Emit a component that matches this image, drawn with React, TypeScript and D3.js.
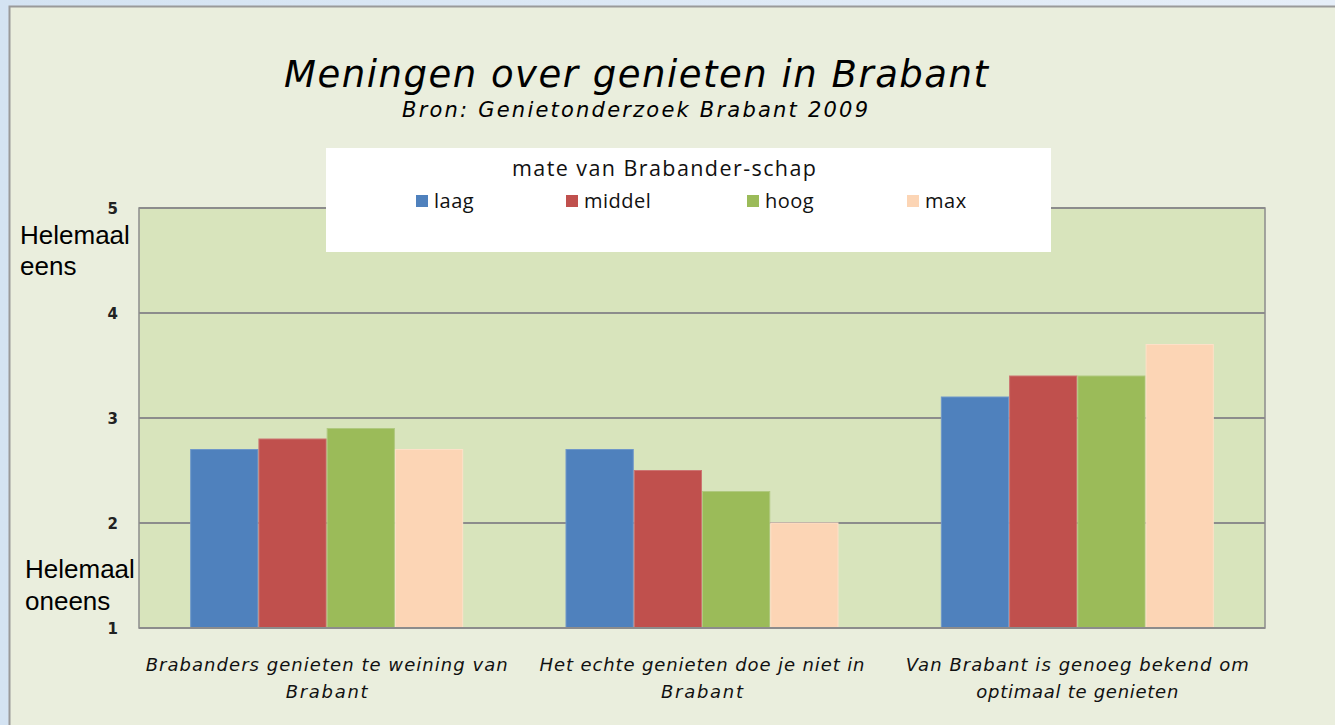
import React from "react";
import * as d3 from "d3";

const categories = [
  ["Brabanders genieten te weining van", "Brabant"],
  ["Het echte  genieten doe je niet in", "Brabant"],
  ["Van Brabant is genoeg bekend om", "optimaal te genieten"],
];
const seriesNames = ["laag", "middel", "hoog", "max"];
const seriesColors = ["#4F81BD", "#C0504D", "#9BBB59", "#FCD5B5"];
const seriesBorders = ["#6f97c9", "#cc7572", "#b0c97f", "#fde0c8"];
const laag = [2.7, 2.7, 3.2];
const middel = [2.8, 2.5, 3.4];
const hoog = [2.9, 2.3, 3.4];
const max = [2.7, 2.0, 3.7];
const yTicks = [1, 2, 3, 4, 5];

const W = 1335;
const H = 725;
const plot = { left: 139, right: 1265, top: 208, bottom: 628 };

export default function App() {
  const values = [laag, middel, hoog, max];
  const x0 = d3
    .scaleBand<number>()
    .domain(categories.map((_, i) => i))
    .range([plot.left, plot.right])
    .paddingInner(0.2727)
    .paddingOuter(0.13635);
  const x1 = d3
    .scaleBand<number>()
    .domain(seriesNames.map((_, i) => i))
    .range([0, x0.bandwidth()])
    .padding(0);
  const y = d3.scaleLinear().domain([1, 5]).range([plot.bottom, plot.top]);

  const legendX = [416, 566, 747, 907];
  const labelWidths = [
    [362, 82],
    [325, 82],
    [343, 202],
  ];

  return (
    <svg
      width={W}
      height={H}
      style={{ position: "absolute", left: 0, top: 0, display: "block" }}
    >
      <defs>
        <linearGradient id="bgGrad" x1="0" y1="0" x2="1" y2="0">
          <stop offset="0" stopColor="#d4e3f2" />
          <stop offset="1" stopColor="#e6eef8" />
        </linearGradient>
      </defs>
      <rect x={0} y={0} width={W} height={H} fill="url(#bgGrad)" />
      <rect
        x={9.5}
        y={6.5}
        width={W}
        height={H}
        fill="#EAEEDD"
        stroke="#9a9a9a"
        strokeWidth={2}
      />
      {/* Title */}
      <text
        x={636}
        y={87}
        textAnchor="middle"
        fontFamily="DejaVu Sans"
        fontStyle="italic"
        fontSize={37}
        textLength={704}
        lengthAdjust="spacing"
        fill="#000"
      >
        Meningen over genieten in Brabant
      </text>
      <text
        x={635}
        y={117}
        textAnchor="middle"
        fontFamily="DejaVu Sans"
        fontStyle="italic"
        fontSize={21}
        textLength={466}
        lengthAdjust="spacing"
        fill="#000"
      >
        Bron: Genietonderzoek Brabant 2009
      </text>

      {/* Plot area */}
      <rect
        x={plot.left}
        y={plot.top}
        width={plot.right - plot.left}
        height={plot.bottom - plot.top}
        fill="#D8E4BC"
        stroke="#8c8c8c"
        strokeWidth={1.5}
      />
      {yTicks.map((t) => (
        <g key={t}>
          <line
            x1={plot.left}
            x2={plot.right}
            y1={y(t)}
            y2={y(t)}
            stroke="#8c8c8c"
            strokeWidth={2}
          />
          <text
            x={118}
            y={y(t) + 6}
            textAnchor="end"
            fontFamily="DejaVu Sans"
            fontWeight="bold"
            fontSize={15}
            fill="#222"
          >
            {t}
          </text>
        </g>
      ))}

      {/* Bars */}
      {categories.map((_, ci) => (
        <g key={ci} transform={`translate(${x0(ci)},0)`}>
          {values.map((s, si) => (
            <rect
              key={si}
              x={x1(si)! + 0.5}
              y={y(s[ci])}
              width={x1.bandwidth() - 1}
              height={y(1) - y(s[ci])}
              fill={seriesColors[si]}
              stroke={seriesBorders[si]}
              strokeWidth={1}
            />
          ))}
        </g>
      ))}
      <line
        x1={plot.left}
        x2={plot.right}
        y1={plot.bottom}
        y2={plot.bottom}
        stroke="#8c8c8c"
        strokeWidth={2}
      />

      {/* Category labels */}
      {categories.map((lines, ci) => {
        const cx = x0(ci)! + x0.bandwidth() / 2;
        return (
          <g key={ci}>
            {lines.map((ln, li) => (
              <text
                key={li}
                x={cx}
                y={671 + li * 27}
                textAnchor="middle"
                fontFamily="DejaVu Sans"
                fontStyle="italic"
                fontSize={18}
                textLength={labelWidths[ci][li]}
                lengthAdjust="spacing"
                fill="#111"
              >
                {ln}
              </text>
            ))}
          </g>
        );
      })}

      {/* Legend */}
      <rect x={326} y={148} width={725} height={104} fill="#ffffff" />
      <text
        x={664}
        y={176}
        textAnchor="middle"
        fontFamily="Open Sans"
        fontSize={21.5}
        textLength={304}
        lengthAdjust="spacing"
        fill="#111"
      >
        mate van Brabander-schap
      </text>
      {seriesNames.map((n, i) => (
        <g key={n}>
          <rect
            x={legendX[i]}
            y={195}
            width={12}
            height={12}
            fill={seriesColors[i]}
          />
          <text
            x={legendX[i] + 18}
            y={208}
            fontFamily="Open Sans"
            fontSize={20}
            letterSpacing={0.5}
            fill="#111"
          >
            {n}
          </text>
        </g>
      ))}

      {/* Side labels */}
      <text fontFamily="Liberation Sans" fontSize={26} fill="#000">
        <tspan x={20} y={244}>
          Helemaal
        </tspan>
        <tspan x={20} y={275}>
          eens
        </tspan>
      </text>
      <text fontFamily="Liberation Sans" fontSize={26} fill="#000">
        <tspan x={25} y={578}>
          Helemaal
        </tspan>
        <tspan x={25} y={610}>
          oneens
        </tspan>
      </text>
    </svg>
  );
}
